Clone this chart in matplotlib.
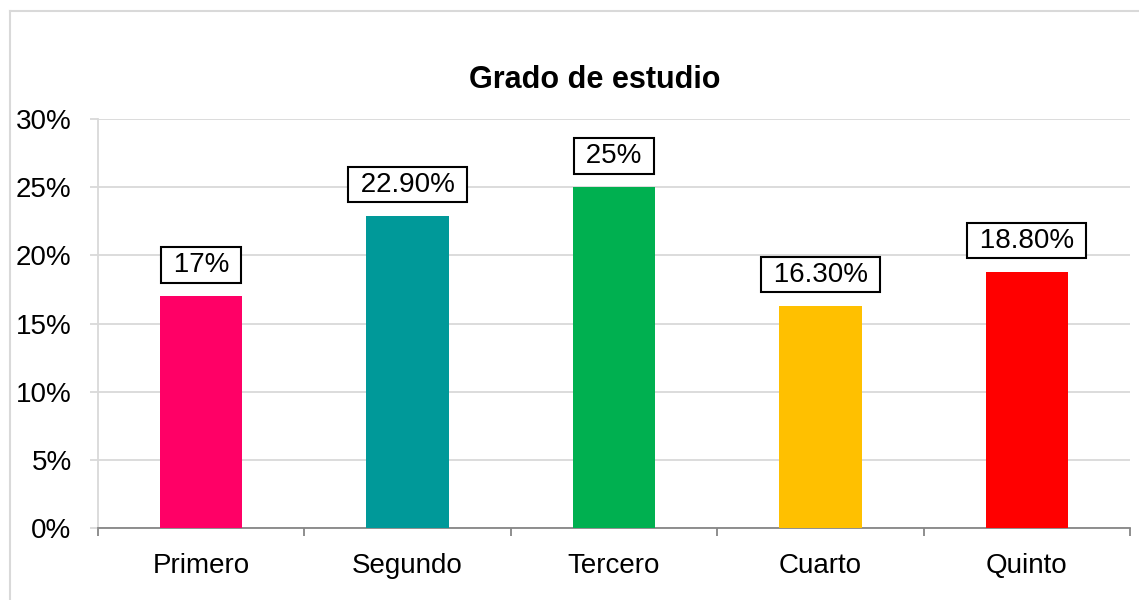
import matplotlib.pyplot as plt
from matplotlib.lines import Line2D
from matplotlib.ticker import FuncFormatter, MultipleLocator

plt.rcParams['font.family'] = ['Liberation Sans', 'DejaVu Sans']

grados = ['Primero', 'Segundo', 'Tercero', 'Cuarto', 'Quinto']
valores = [17.0, 22.9, 25.0, 16.3, 18.8]
etiquetas = ['17%', '22.90%', '25%', '16.30%', '18.80%']
colores = ['#FF0066', '#009999', '#00B050', '#FFC000', '#FF0000']

W, H = 1139, 600
fig = plt.figure(figsize=(W / 100, H / 100), dpi=100)
ax = fig.add_axes([98 / W, 1 - 528 / H, (1130 - 98) / W, (528 - 119) / H])

x = list(range(len(grados)))
ax.bar(x, valores, width=0.4, color=colores, zorder=3)

for xi, v, t in zip(x, valores, etiquetas):
    ax.annotate(' ' + t + ' ', (xi, v), xytext=(0, 13), textcoords='offset points',
                ha='center', va='bottom', fontsize=20,
                bbox=dict(boxstyle='square,pad=0.17', fc='white', ec='black', lw=1.5),
                zorder=4)

ax.set_xlim(-0.5, len(grados) - 0.5)
ax.set_ylim(0, 30)
ax.yaxis.set_major_locator(MultipleLocator(5))
ax.yaxis.set_major_formatter(FuncFormatter(lambda v, p: f'{v:.0f}%'))
ax.grid(axis='y', color='#d9d9d9', lw=1.3, zorder=0)

ax.set_xticks(x)
ax.set_xticklabels(grados)
ax.set_xticks([i - 0.5 for i in range(len(grados) + 1)], minor=True)
ax.tick_params(axis='x', which='major', length=0, labelsize=20, pad=18)
ax.tick_params(axis='x', which='minor', length=6, width=1.3, color='#868686')
ax.tick_params(axis='y', length=6, width=1.3, color='#d9d9d9', labelsize=20, pad=13)

for s in ['top', 'right']:
    ax.spines[s].set_visible(False)
ax.spines['left'].set_color('#d9d9d9')
ax.spines['left'].set_linewidth(1.3)
ax.spines['bottom'].set_color('#868686')
ax.spines['bottom'].set_linewidth(1.3)

fig.text(595 / W, 1 - 80 / H, 'Grado de estudio', ha='center', va='center',
         fontsize=22, fontweight='bold')

# marco del gráfico
fig.add_artist(Line2D([10 / W, 1], [1 - 11 / H, 1 - 11 / H], color='#d9d9d9', lw=1.5))
fig.add_artist(Line2D([10 / W, 10 / W], [0, 1 - 11 / H], color='#d9d9d9', lw=1.5))

fig.savefig('out.png', dpi=100)
